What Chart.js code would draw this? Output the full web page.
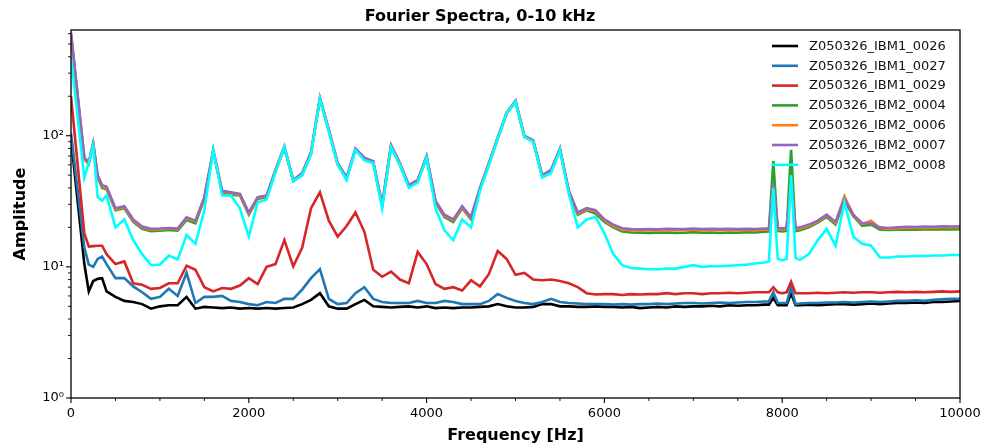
<!DOCTYPE html>
<html>
<head>
<meta charset="utf-8">
<script src="https://cdn.jsdelivr.net/npm/chart.js@4.4.1/dist/chart.umd.min.js"></script>
<style>
  html, body { margin: 0; padding: 0; background: #fff; }
  canvas { display: block; }
</style>
</head>
<body>
<canvas id="c" width="984" height="447"></canvas>
<script>
// ---- Data ----
const freqs = [
  0,150,200,250,300,350,400,
  500,600,700,800,900,1000,1100,1200,1300,1400,
  1500,1600,1700,1800,1900,2000,2100,2200,2300,2400,
  2500,2600,2700,2800,2900,3000,3100,3200,3300,3400,
  3500,3600,3700,3800,3900,4000,4100,4200,4300,4400,
  4500,4600,4700,4800,4900,5000,5100,5200,5300,5400,
  5500,5600,5700,5800,5900,6000,6100,6200,6300,6400,
  6500,6600,6700,6800,6900,7000,7100,7200,7300,7400,
  7500,7600,7700,7800,
  7850,7900,7950,8000,8050,8100,8150,8200,
  8300,8400,8500,8600,8700,8800,8900,9000,9100,9200,9300,9400,9500,9600,9700,9800,9900,10000
];

const ibm1_0026 = [
  95,10.5,6.5,7.8,8.1,8.2,6.5,
  5.9,5.5,5.4,5.2,4.8,5.0,5.1,5.1,5.9,4.8,
  4.95,4.9,4.85,4.9,4.8,4.85,4.8,4.85,4.8,4.85,
  4.9,5.2,5.6,6.3,5.0,4.8,4.8,5.2,5.6,5.0,
  4.95,4.9,4.95,5.0,4.9,5.0,4.85,4.9,4.85,4.9,
  4.9,4.95,5.0,5.2,5.0,4.9,4.9,4.95,5.2,5.2,
  5.0,5.0,4.95,4.95,5.0,4.95,4.95,4.9,4.95,4.85,
  4.9,4.95,4.9,5.0,4.95,5.0,5.0,5.05,5.0,5.1,
  5.05,5.1,5.1,5.15,
  5.15,5.8,5.1,5.1,5.1,6.3,5.1,5.1,
  5.15,5.1,5.15,5.2,5.2,5.15,5.2,5.25,5.2,5.25,5.3,5.3,5.35,5.3,5.4,5.4,5.45,5.5
];

const ibm1_0027 = [
  105,14,10.4,10,11.5,12,10.5,
  8.2,8.2,7.1,6.4,5.7,5.9,6.8,6.0,9.0,5.3,
  5.9,5.9,6.0,5.5,5.4,5.2,5.1,5.4,5.3,5.7,
  5.7,6.7,8.2,9.6,5.7,5.2,5.3,6.3,7.0,5.7,
  5.4,5.3,5.3,5.3,5.5,5.3,5.3,5.5,5.4,5.2,
  5.2,5.2,5.5,6.2,5.8,5.5,5.3,5.2,5.4,5.7,
  5.4,5.3,5.25,5.2,5.2,5.2,5.15,5.2,5.15,5.2,
  5.2,5.25,5.2,5.25,5.3,5.3,5.25,5.3,5.35,5.3,
  5.35,5.4,5.4,5.45,
  5.45,6.4,5.3,5.3,5.3,7.0,5.2,5.25,
  5.3,5.3,5.35,5.35,5.4,5.35,5.4,5.45,5.4,5.45,5.5,5.5,5.55,5.5,5.6,5.65,5.7,5.7
];

const ibm1_0029 = [
  200,18,14.3,14.4,14.5,14.5,12.5,
  10.5,11,7.5,7.3,6.8,6.9,7.5,7.5,10.2,9.5,
  7.0,6.5,6.9,6.8,7.2,8.2,7.4,10,10.5,16,
  10.1,14,28,37,22.5,17,20.5,26,18.5,9.5,
  8.4,9.2,8.0,7.5,13,10.5,7.4,6.8,7.0,6.6,
  7.9,7.1,8.8,13.2,11.5,8.7,9.0,8.0,7.9,8.0,
  7.8,7.5,7.0,6.3,6.15,6.2,6.2,6.1,6.2,6.15,
  6.2,6.2,6.3,6.2,6.3,6.3,6.2,6.3,6.3,6.35,
  6.3,6.35,6.4,6.4,
  6.4,7.0,6.4,6.3,6.4,7.7,6.3,6.3,
  6.3,6.35,6.3,6.35,6.4,6.35,6.4,6.4,6.35,6.4,6.45,6.4,6.45,6.4,6.45,6.5,6.45,6.5
];

const ibm2_0004 = [
  590,66,61,86,48,40,39,
  27,28,22,19.5,18.7,18.9,19.1,18.9,22.8,21.5,
  33,76,36.5,35.5,35,25,33,34,53,81,
  45,50,73,192,109,60,47,78,66,62,
  29,83,60,41,45,68,31,24,22,28,
  23,39,60,95,147,182,98,90,49,53,
  78,37,25,27,25.5,22,20,18.6,18.3,18.2,
  18.1,18.2,18.3,18.1,18.2,18.4,18.2,18.3,18.1,18.3,
  18.2,18.4,18.3,18.5,
  18.6,64,18.8,18.6,18.8,78,18.7,19,
  20,21.7,24,21,32,24.3,20.5,21,19.2,19.1,19.2,19.3,19.2,19.3,19.3,19.4,19.3,19.4
];

const ibm2_0006 = [
  600,67,62,87,49,41,40,
  27.5,28.5,22.5,20,19.2,19.3,19.6,19.4,23.5,22.2,
  33.5,77,37.5,36.5,35.5,25.5,33.5,34.5,54,82,
  45.5,51,74,193,110,61,47.5,79,67,63,
  29.5,84,61,41.5,45.5,69,31.5,24.5,22.6,28.5,
  23.6,39.5,61,96,148,183,99,91,49.5,54,
  79,37.5,25.5,27.5,26.5,22.6,20.5,19.3,19,18.9,
  19,18.9,19.1,19,19,19.2,19,19.1,19,19.1,
  19,19.1,19,19.2,
  19.2,42,19.4,19.3,19.5,44,19.4,19.6,
  20.6,22.2,24.6,21.6,34.5,24.6,21.2,22.5,19.8,19.5,19.7,19.8,19.8,19.9,19.9,20,20,20.1
];

const ibm2_0007 = [
  610,68,63,88,50,42,41,
  28,29,23,20.3,19.5,19.6,19.8,19.6,23.9,22.5,
  34,78,38,37,36,26,34,35,55,83,
  46,52,75,195,112,62,48,80,68,64,
  30,85,62,42,46,70,32,25,23,29,
  24,40,62,97,150,185,100,92,50,55,
  80,38,26,28,27,23,21,19.7,19.4,19.3,
  19.4,19.3,19.5,19.4,19.4,19.6,19.4,19.5,19.4,19.5,
  19.4,19.5,19.4,19.6,
  19.6,43,19.8,19.7,19.9,45,19.8,20,
  21,22.5,25,22,33,25,21.5,21.5,20,19.8,20,20.2,20.1,20.3,20.2,20.4,20.3,20.4
];

const ibm2_0008 = [
  400,48,62,84,34,32,35,
  20,23,16,12.5,10.3,10.4,12.2,11.4,17.5,15,
  27,78,35,35,28,17,31,32.6,53,82,
  45,50,72,192,108,60,46,78,65,62,
  28,82,60,40,44,68,28,19,16,23,
  20,38,60,95,148,182,98,90,48,52,
  78,36,20,23,24,18,12.5,10.3,9.8,9.7,
  9.6,9.6,9.7,9.7,10,10.3,10,10.1,10.1,10.2,
  10.3,10.4,10.6,10.8,
  11,40,11.5,11.2,11.5,50,11.7,11.3,
  12.5,16,19.5,14.5,31,17,15,14.5,11.8,11.8,12,12,12.1,12.1,12.2,12.2,12.3,12.3
];

const seriesNames = [
  'Z050326_IBM1_0026','Z050326_IBM1_0027','Z050326_IBM1_0029',
  'Z050326_IBM2_0004','Z050326_IBM2_0006','Z050326_IBM2_0007','Z050326_IBM2_0008'
];
const seriesValues = [ibm1_0026, ibm1_0027, ibm1_0029, ibm2_0004, ibm2_0006, ibm2_0007, ibm2_0008];
const seriesColors = ['#000000','#1f77b4','#d62728','#2ca02c','#ff7f0e','#9467bd','#00ffff'];

const xMajorTicks = [0,2000,4000,6000,8000,10000];
const xMinorTicks = [500,1000,1500,2500,3000,3500,4500,5000,5500,6500,7000,7500,8500,9000,9500];
const yMajorTicks = [1,10,100];
const yTickLabels = ['10\u2070','10\u00b9','10\u00b2'];
const yMinorTicks = [2,3,4,5,6,7,8,9,20,30,40,50,60,70,80,90,200,300,400,500,600];

const FONT = "'DejaVu Sans', 'Liberation Sans', sans-serif";

// ---- Plugin: frame, outward ticks (major/minor) and legend ----
const decor = {
  id: 'decor',
  afterDraw(chart) {
    const {ctx, chartArea: a, scales: {x, y}} = chart;
    ctx.save();
    ctx.strokeStyle = '#000';
    ctx.lineWidth = 1.1;
    xMajorTicks.forEach(v => {
      const px = x.getPixelForValue(v);
      ctx.beginPath(); ctx.moveTo(px, a.bottom); ctx.lineTo(px, a.bottom + 5); ctx.stroke();
    });
    ctx.lineWidth = 0.9;
    xMinorTicks.forEach(v => {
      const px = x.getPixelForValue(v);
      ctx.beginPath(); ctx.moveTo(px, a.bottom); ctx.lineTo(px, a.bottom + 3); ctx.stroke();
    });
    ctx.lineWidth = 1.1;
    yMajorTicks.forEach(v => {
      const py = y.getPixelForValue(v);
      ctx.beginPath(); ctx.moveTo(a.left, py); ctx.lineTo(a.left - 5, py); ctx.stroke();
    });
    ctx.lineWidth = 0.9;
    yMinorTicks.forEach(v => {
      const py = y.getPixelForValue(v);
      ctx.beginPath(); ctx.moveTo(a.left, py); ctx.lineTo(a.left - 3, py); ctx.stroke();
    });
    ctx.lineWidth = 1.3;
    ctx.strokeRect(a.left, a.top, a.right - a.left, a.bottom - a.top);

    // legend (upper right, no frame)
    ctx.font = '13px ' + FONT;
    ctx.textBaseline = 'middle';
    ctx.textAlign = 'left';
    chart.data.datasets.forEach((ds, i) => {
      const ry = a.top + 16 + i * 19.8;
      ctx.strokeStyle = ds.borderColor;
      ctx.lineWidth = 2.6;
      ctx.beginPath(); ctx.moveTo(a.right - 188, ry); ctx.lineTo(a.right - 162, ry); ctx.stroke();
      ctx.fillStyle = '#111';
      ctx.fillText(ds.label, a.right - 151, ry + 0.5);
    });
    ctx.restore();
  }
};

const datasets = seriesNames.map((name, i) => ({
  label: name,
  data: freqs.map((f, k) => ({x: f, y: seriesValues[i][k]})),
  borderColor: seriesColors[i],
  backgroundColor: seriesColors[i],
  borderWidth: 2.6,
  pointRadius: 0,
  tension: 0,
  fill: false,
  order: seriesNames.length - i
}));

new Chart(document.getElementById('c'), {
  type: 'line',
  data: { datasets },
  options: {
    responsive: false,
    devicePixelRatio: 1,
    animation: false,
    layout: { padding: { left: 0, right: 24, top: 0, bottom: 0 } },
    plugins: {
      legend: { display: false },
      tooltip: { enabled: false },
      title: {
        display: true,
        text: 'Fourier Spectra, 0-10 kHz',
        color: '#000',
        font: { family: FONT, size: 16, weight: 'bold' },
        padding: { top: 7, bottom: 3.8 }
      }
    },
    scales: {
      x: {
        type: 'linear',
        min: 0, max: 10000,
        grid: { display: false, drawTicks: false },
        border: { display: false },
        afterBuildTicks: s => { s.ticks = xMajorTicks.map(v => ({value: v})); },
        afterFit: s => { s.height = 49; s.paddingLeft = 0; s.paddingRight = 0; },
        ticks: {
          color: '#000',
          font: { family: FONT, size: 13 },
          padding: 8,
          maxRotation: 0,
          callback: v => String(v)
        },
        title: {
          display: true,
          text: 'Frequency [Hz]',
          color: '#000',
          font: { family: FONT, size: 16, weight: 'bold' },
          padding: { top: 0, bottom: 2 }
        }
      },
      y: {
        type: 'logarithmic',
        min: 1, max: 640,
        grid: { display: false, drawTicks: false },
        border: { display: false },
        afterBuildTicks: s => { s.ticks = yMajorTicks.map(v => ({value: v})); },
        afterFit: s => { s.width = 71; s.paddingTop = 0; s.paddingBottom = 0; },
        ticks: {
          color: '#000',
          font: { family: FONT, size: 13 },
          padding: 7,
          callback: (v, i) => yTickLabels[i]
        },
        title: {
          display: true,
          text: 'Amplitude',
          color: '#000',
          font: { family: FONT, size: 16, weight: 'bold' },
          padding: { top: 11, bottom: 0 }
        }
      }
    }
  },
  plugins: [decor]
});
</script>
</body>
</html>
